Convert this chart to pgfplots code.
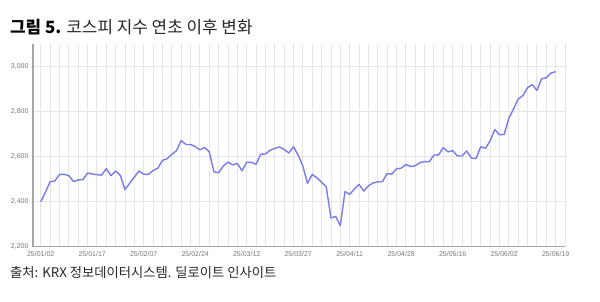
\documentclass[border=0pt]{standalone}
\usepackage{fontspec}
\setmainfont{Liberation Sans}
\newfontfamily\kr{Noto Sans CJK KR}
\usepackage{pgfplots}
\pgfplotsset{compat=1.18}
\definecolor{linec}{RGB}{122,122,234}
\definecolor{gridc}{RGB}{230,230,230}
\definecolor{axisc}{RGB}{165,165,165}
\definecolor{tickc}{RGB}{120,120,120}
\definecolor{titlec}{RGB}{40,40,40}
\pgfplotstableread{
i v
0 2398.94
1 2441.92
2 2488.64
3 2492.10
4 2521.05
5 2521.90
6 2515.78
7 2489.56
8 2497.05
9 2497.80
10 2527.49
11 2523.55
12 2520.05
13 2518.03
14 2547.06
15 2515.78
16 2536.80
17 2517.37
18 2453.95
19 2481.69
20 2509.27
21 2536.75
22 2521.92
23 2521.27
24 2539.05
25 2548.39
26 2583.17
27 2591.05
28 2610.42
29 2626.81
30 2671.52
31 2654.58
32 2654.06
33 2645.27
34 2630.29
35 2641.09
36 2621.75
37 2532.78
38 2528.92
39 2558.13
40 2576.16
41 2563.48
42 2570.39
43 2537.60
44 2574.82
45 2575.20
46 2566.36
47 2610.69
48 2612.34
49 2628.62
50 2637.08
51 2643.13
52 2632.30
53 2616.52
54 2643.94
55 2607.15
56 2557.98
57 2481.12
58 2521.39
59 2505.86
60 2486.70
61 2465.42
62 2328.20
63 2334.23
64 2293.70
65 2445.06
66 2432.72
67 2455.89
68 2477.41
69 2447.23
70 2470.39
71 2483.42
72 2488.42
73 2489.04
74 2525.56
75 2522.33
76 2546.30
77 2548.86
78 2565.42
79 2556.61
80 2559.79
81 2573.80
82 2578.30
83 2577.27
84 2607.33
85 2608.42
86 2640.57
87 2621.41
88 2626.87
89 2603.42
90 2603.22
91 2625.58
92 2593.67
93 2592.09
94 2644.40
95 2637.22
96 2670.07
97 2720.64
98 2697.67
99 2698.97
100 2770.84
101 2812.05
102 2855.77
103 2871.85
104 2907.04
105 2920.03
106 2894.62
107 2946.66
108 2950.30
109 2972.29
110 2977.74
}\kospi
\begin{document}
\begin{tikzpicture}
\useasboundingbox (0bp,0bp) rectangle (600bp,-302bp);
\node[anchor=base west, inner sep=0pt] at (10bp,-33bp)
  {\kr\fontsize{16.9bp}{19bp}\selectfont{\bfseries 그림 5.} \textcolor{titlec}{코스피 지수 연초 이후 변화}};
\node[anchor=base west, inner sep=0pt] at (10bp,-277bp)
  {\kr\fontsize{13.3bp}{16bp}\selectfont\textcolor{titlec}{출처: KRX 정보데이터시스템. 딜로이트 인사이트}};
\begin{axis}[
  at={(33bp,-246.7bp)}, anchor=south west,
  scale only axis, width=532bp, height=202.5bp,
  xmin=-1.65, xmax=112, ymin=2200, ymax=3100,
  axis x line*=bottom, axis y line*=left,
  axis line style={axisc, line width=1.1pt, -},
  xtick={0,11,...,110},
  xticklabels={25/01/02,25/01/17,25/02/07,25/02/24,25/03/12,25/03/27,25/04/11,25/04/28,25/05/16,25/06/02,25/06/19},
  minor xtick={0,2,...,112},
  xminorgrids=true, xmajorgrids=false,
  ytick={2200,2400,...,3000},
  ymajorgrids=true,
  major grid style={gridc, line width=1pt},
  minor grid style={gridc, line width=0.9pt},
  major tick length=0pt, minor tick length=0pt,
  tick style={draw=none},
  /pgf/number format/assume math mode=true,
  /pgf/number format/1000 sep={,},
  ticklabel style={font=\fontsize{7bp}{8bp}\selectfont, text=tickc},
  xticklabel style={yshift=-1.5bp},
  yticklabel style={xshift=-1bp},
  clip=false,
]
\addplot[linec, line width=1.4pt, line join=round, no markers] table[x=i, y=v] {\kospi};
\end{axis}
\end{tikzpicture}
\end{document}
